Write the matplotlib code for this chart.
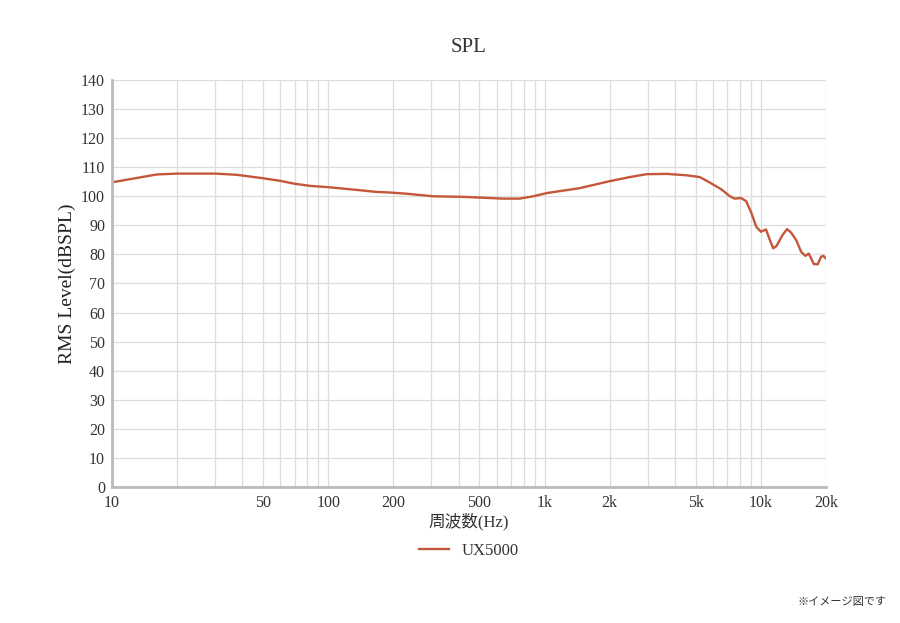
import numpy as np
from matplotlib import pyplot as plt
from matplotlib.ticker import FixedLocator, NullFormatter

plt.rcParams['font.family'] = ['Liberation Serif', 'Noto Sans CJK JP', 'DejaVu Sans']

# Frequency response (Hz, dB SPL)
freq = [10, 16.1, 20, 30, 37.6, 50, 60, 70, 82, 101, 135, 167, 192, 229, 305,
        421, 519, 642, 768, 886, 1023, 1454, 2000, 2474, 2962, 3675, 4560,
        5220, 5810, 6560, 7160, 7550, 8100, 8550, 9020, 9520, 10000, 10560,
        10930, 11400, 11810, 12600, 13200, 13800, 14560, 15350, 16060, 16640,
        17080, 17560, 18320, 18980, 19450, 20000]
spl = [104.8, 107.5, 107.8, 107.8, 107.4, 106.2, 105.3, 104.3, 103.6, 103.1,
       102.2, 101.5, 101.3, 100.9, 100.0, 99.8, 99.5, 99.2, 99.2, 100.0, 101.1,
       102.8, 105.2, 106.6, 107.6, 107.7, 107.2, 106.6, 104.7, 102.4, 100.1,
       99.2, 99.4, 98.3, 94.4, 89.5, 87.8, 88.6, 85.5, 82.1, 82.9, 86.7, 88.7,
       87.5, 84.9, 80.9, 79.5, 80.3, 78.6, 76.7, 76.6, 79.2, 79.5, 78.6]

xticks = [10, 50, 100, 200, 500, 1000, 2000, 5000, 10000, 20000]
xlabels = ['10', '50', '100', '200', '500', '1k', '2k', '5k', '10k', '20k']
minor = [m * d for d in (10, 100, 1000, 10000) for m in range(2, 10)]
minor = [f for f in minor if f <= 20000 and f not in xticks]

fig = plt.figure(figsize=(9, 6.23), dpi=100)
ax = fig.add_axes([0.1244, 0.2183, 0.7934, 0.6533])

ax.semilogx(freq, spl, color='#c4573a', lw=1.7, label='UX5000',
            solid_joinstyle='round')
ax.set_xlim(10, 20000)
ax.set_ylim(0, 140)
ax.set_xticks(xticks)
ax.set_xticklabels(xlabels)
ax.xaxis.set_minor_locator(FixedLocator(minor))
ax.xaxis.set_minor_formatter(NullFormatter())
ax.set_yticks(np.arange(0, 141, 10))

ax.grid(True, which='both', axis='x', color='#dcdcdc', lw=0.9)
ax.grid(True, which='major', axis='y', color='#dcdcdc', lw=0.9)
ax.set_axisbelow(True)
ax.tick_params(which='both', length=0, labelsize=11.5, colors='#333333')
ax.tick_params(axis='x', pad=6)
ax.tick_params(axis='y', pad=5)
for s in ('top', 'right'):
    ax.spines[s].set_visible(False)
for s in ('left', 'bottom'):
    ax.spines[s].set_color('#bbbbbb')
    ax.spines[s].set_linewidth(2)

ax.set_title('SPL', fontsize=15, color='#333333', pad=20)
ax.set_ylabel('RMS Level(dBSPL)', fontsize=14, color='#222222')
ax.yaxis.set_label_coords(-0.05, 0.5)
ax.set_xlabel('周波数(Hz)', fontsize=12, color='#333333', labelpad=1)
ax.legend(loc='upper center', bbox_to_anchor=(0.5, -0.1), frameon=False,
          fontsize=12, handlelength=1.8, labelcolor='#333333')

fig.text(0.985, 0.025, '※イメージ図です', ha='right', va='bottom', fontsize=8,
         color='#333333')

fig.savefig('out.png', dpi=100)
